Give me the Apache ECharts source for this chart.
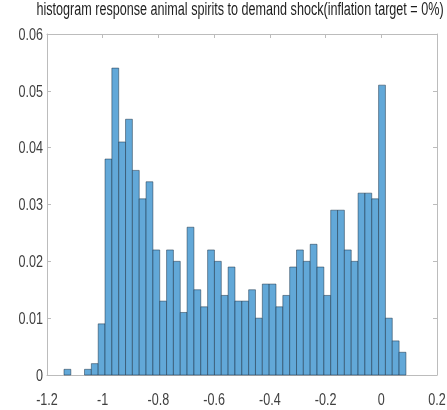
<!DOCTYPE html>
<html>
<head>
<meta charset="utf-8">
<script src="https://cdn.jsdelivr.net/npm/echarts@6/dist/echarts.min.js"></script>
<style>
html,body{margin:0;padding:0;background:#fff;}
#c{width:447px;height:410px;}
</style>
</head>
<body>
<div id="c"></div>
<script>
// Histogram bins (MATLAB-style, probability normalization)
const binStart = -1.139;
const binWidth = 0.02455;
const probabilities = [
  0.001, 0, 0, 0.001, 0.002, 0.009, 0.038, 0.054, 0.041, 0.045,
  0.036, 0.031, 0.034, 0.022, 0.013, 0.022, 0.020, 0.011, 0.026, 0.015,
  0.012, 0.022, 0.020, 0.014, 0.019, 0.013, 0.013, 0.015, 0.010, 0.016,
  0.016, 0.012, 0.014, 0.019, 0.022, 0.020, 0.023, 0.019, 0.014, 0.029,
  0.029, 0.022, 0.020, 0.032, 0.032, 0.031, 0.051, 0.010, 0.006, 0.004
];
const xTicks = [-1.2, -1, -0.8, -0.6, -0.4, -0.2, 0, 0.2];
const xTickLabels = ['-1.2', '-1', '-0.8', '-0.6', '-0.4', '-0.2', '0', '0.2'];
const yTicks = [0, 0.01, 0.02, 0.03, 0.04, 0.05, 0.06];
const yTickLabels = ['0', '0.01', '0.02', '0.03', '0.04', '0.05', '0.06'];
const titleText = 'histogram response animal spirits to demand shock(inflation target = 0%)';

const binData = probabilities.map((p, i) => [binStart + binWidth * i, binStart + binWidth * (i + 1), p]);
const xLabelData = xTicks.map((t, i) => [t, 0, i]);
const yLabelData = yTicks.map((t, i) => [-1.2, t, i]);

const FONT_FAMILY = '"Liberation Sans", Arial, sans-serif';
const NARROW = 0.74;
const axisColor = '#bcbcbc';
const labelColor = '#404040';

const chart = echarts.init(document.getElementById('c'), null, {renderer: 'canvas'});

function axisCommon(pos) {
  return {
    type: 'value', position: pos,
    axisLine: {show: true, onZero: false, lineStyle: {color: axisColor, width: 1}},
    axisTick: {show: true, inside: true, length: 4, lineStyle: {color: axisColor}},
    axisLabel: {show: false},
    splitLine: {show: false}
  };
}

chart.setOption({
  animation: false,
  backgroundColor: '#ffffff',
  grid: {left: 47, right: 10, top: 34, bottom: 35, containLabel: false},
  xAxis: [
    Object.assign(axisCommon('bottom'), {min: -1.2, max: 0.2, interval: 0.2}),
    Object.assign(axisCommon('top'), {min: -1.2, max: 0.2, interval: 0.2})
  ],
  yAxis: [
    Object.assign(axisCommon('left'), {min: 0, max: 0.06, interval: 0.01}),
    Object.assign(axisCommon('right'), {min: 0, max: 0.06, interval: 0.01})
  ],
  graphic: [{
    type: 'text',
    x: 240, y: 10,
    scaleX: 0.7,
    style: {
      text: titleText, x: 0, y: 0,
      align: 'center', verticalAlign: 'middle',
      font: '18px ' + FONT_FAMILY, fill: '#1e1e1e'
    }
  }],
  series: [{
    type: 'custom',
    xAxisIndex: 0, yAxisIndex: 0,
    encode: {x: [0, 1], y: 2},
    data: binData,
    silent: true,
    renderItem: function (params, api) {
      const x0 = api.value(0), x1 = api.value(1), v = api.value(2);
      if (!(v > 0)) return null;
      const pTop = api.coord([x0, v]);
      const pBot = api.coord([x1, 0]);
      return {
        type: 'rect',
        shape: {x: pTop[0], y: pTop[1], width: pBot[0] - pTop[0], height: pBot[1] - pTop[1]},
        style: {fill: '#62a8d8', stroke: 'rgba(20,40,60,0.6)', lineWidth: 0.8}
      };
    }
  }, {
    type: 'custom',
    xAxisIndex: 0, yAxisIndex: 0,
    encode: {x: 0, y: 1},
    data: xLabelData,
    silent: true,
    clip: false,
    renderItem: function (params, api) {
      const p = api.coord([api.value(0), api.value(1)]);
      return {
        type: 'text',
        x: p[0], y: p[1] + 25,
        scaleX: NARROW,
        style: {
          text: xTickLabels[api.value(2)], x: 0, y: 0,
          align: 'center', verticalAlign: 'middle',
          font: '17px ' + FONT_FAMILY, fill: labelColor
        }
      };
    }
  }, {
    type: 'custom',
    xAxisIndex: 0, yAxisIndex: 0,
    encode: {x: 0, y: 1},
    data: yLabelData,
    silent: true,
    clip: false,
    renderItem: function (params, api) {
      const p = api.coord([api.value(0), api.value(1)]);
      return {
        type: 'text',
        x: p[0] - 4, y: p[1] + 1,
        scaleX: NARROW,
        style: {
          text: yTickLabels[api.value(2)], x: 0, y: 0,
          align: 'right', verticalAlign: 'middle',
          font: '17px ' + FONT_FAMILY, fill: labelColor
        }
      };
    }
  }]
});
</script>
</body>
</html>
